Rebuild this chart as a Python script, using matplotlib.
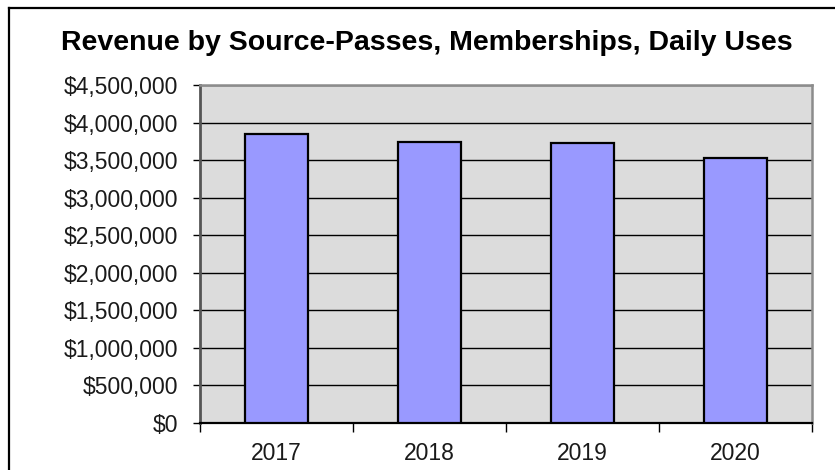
import matplotlib
matplotlib.use("Agg")
import matplotlib.pyplot as plt
from matplotlib.lines import Line2D
from matplotlib.ticker import FuncFormatter, MultipleLocator, FixedLocator

plt.rcParams['font.family'] = ['Liberation Sans', 'DejaVu Sans']

years = ["2017", "2018", "2019", "2020"]
revenue = [3851000, 3740000, 3727000, 3533000]

fig = plt.figure(figsize=(8.35, 4.70), dpi=100)
ax = fig.add_axes([200 / 835, 1 - 422.7 / 470, 612 / 835, (422.7 - 85) / 470])
ax.set_facecolor("#dcdcdc")

x = list(range(len(years)))
ax.bar(x, revenue, width=0.41, color="#9999ff", edgecolor="black", linewidth=1.6, zorder=3)

ax.set_xlim(-0.5, len(years) - 0.5)
ax.set_ylim(0, 4500000)
ax.yaxis.set_major_locator(MultipleLocator(500000))
ax.yaxis.set_major_formatter(FuncFormatter(lambda v, p: f"${v:,.0f}"))
ax.grid(axis="y", color="black", linewidth=1.0, zorder=1)

ax.set_xticks(x)
ax.set_xticklabels(years)
ax.xaxis.set_minor_locator(FixedLocator([i - 0.5 for i in range(len(years) + 1)]))
ax.tick_params(axis="x", which="major", length=0, pad=14, labelsize=16.5, colors="#1a1a1a")
ax.tick_params(axis="x", which="minor", length=6.5, width=1.0, color="black")
ax.tick_params(axis="y", length=5, width=1.0, pad=10.5, labelsize=16.5, colors="black",
               labelcolor="#1a1a1a")

ax.spines["left"].set_color("#555555")
ax.spines["left"].set_linewidth(2.0)
ax.spines["bottom"].set_color("black")
ax.spines["bottom"].set_linewidth(1.6)
ax.spines["top"].set_color("#8c8c8c")
ax.spines["top"].set_linewidth(1.8)
ax.spines["right"].set_color("#8c8c8c")
ax.spines["right"].set_linewidth(1.8)

fig.text(427 / 835, 1 - 50 / 470, "Revenue by Source-Passes, Memberships, Daily Uses",
         ha="center", va="baseline", fontsize=20.5, fontweight="bold", color="black")

# outer frame of the chart object
fig.add_artist(Line2D([9 / 835, 9 / 835], [0, 1 - 8 / 470], transform=fig.transFigure,
                      color="black", linewidth=1.6))
fig.add_artist(Line2D([9 / 835, 1], [1 - 8 / 470, 1 - 8 / 470], transform=fig.transFigure,
                      color="black", linewidth=1.6))

fig.savefig("out.png", dpi=100)
